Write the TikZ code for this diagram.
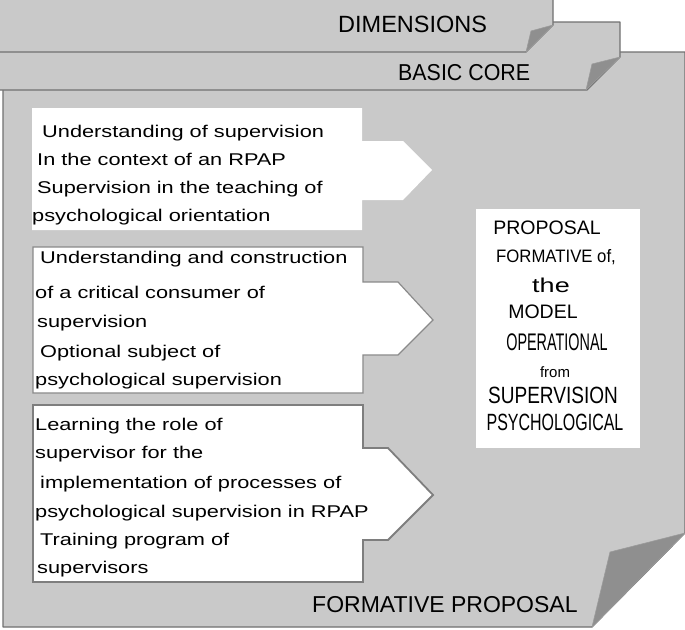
\documentclass[tikz,border=0pt]{standalone}
\usepackage{fontspec}
\setmainfont{Liberation Sans}
\newfontfamily\widefont[FakeStretch=1.28]{Liberation Sans}
\newfontfamily\tabfont[FakeStretch=0.93]{Liberation Sans}
\newfontfamily\widerfont[FakeStretch=1.35]{Liberation Sans}
\newfontfamily\narrowfont[FakeStretch=0.6]{Liberation Sans}
\newfontfamily\condfont[FakeStretch=0.81]{Liberation Sans}
\newfontfamily\tightfont[FakeStretch=0.68]{Liberation Sans}
\definecolor{panelgray}{RGB}{201, 201, 201}
\definecolor{flapgray}{RGB}{143, 143, 143}
\definecolor{edgegray}{RGB}{112, 112, 112}
\definecolor{boxgray}{RGB}{138, 138, 138}

\begin{document}
\begin{tikzpicture}[
    x=1pt, y=-1pt,
    panel/.style={fill=panelgray, draw=edgegray, line width=1.2pt, line join=round},
    flap/.style={fill=flapgray, draw=edgegray!70, line width=0.6pt, line join=round},
    arrowbox/.style={fill=white, line join=miter},
    tablabel/.style={anchor=base west, inner sep=0pt, font=\fontsize{23.5}{26}\selectfont},
    boxline/.style={anchor=base west, inner sep=0pt, font=\widefont\fontsize{17}{20}\selectfont},
    modelline/.style={anchor=base, inner sep=0pt}
]
\useasboundingbox (0,0) rectangle (685,629);

% Hoja principal (al fondo)
\draw[panel] (3,52) -- (685,52) -- (685,533) -- (592,627) -- (3,627) -- cycle;
\draw[flap] (685,533) -- (610,552) -- (592,627) -- cycle;

% Pestaña BASIC CORE
\draw[panel] (-2,22) -- (620,22) -- (620,57) -- (587,90) -- (-2,90) -- cycle;
\draw[flap] (620,57) -- (592,64) -- (586,90) -- cycle;

% Pestaña DIMENSIONS
\draw[panel] (-2,-2) -- (553,-2) -- (553,25) -- (526,52) -- (-2,52) -- cycle;
\draw[flap] (553,25) -- (531,31) -- (526,52) -- cycle;

% Etiquetas de las pestañas
\node[tablabel] (dim) at (338,32) {DIMENSIONS};
\node[tablabel, font=\tabfont\fontsize{23}{26}\selectfont] (core) at (398,80) {BASIC CORE};
\node[tablabel, font=\fontsize{23}{26}\selectfont] (formprop) at (312,612) {FORMATIVE PROPOSAL};

% Cajas con flecha
\path[arrowbox] (32,108) -- (362,108) -- (362,141) -- (403,141) -- (432,170)
    -- (403,200) -- (362,200) -- (362,230) -- (32,230) -- cycle;
\draw[arrowbox, draw=boxgray, line width=1.2pt] (33,247) -- (363,247) -- (363,282) -- (398,282)
    -- (433,320) -- (398,355) -- (363,355) -- (363,393) -- (33,393) -- cycle;
\draw[arrowbox, draw=edgegray!90, line width=1.8pt] (33,405) -- (363,405) -- (363,448) -- (388,448)
    -- (433,495) -- (388,540) -- (363,540) -- (363,582) -- (33,582) -- cycle;

% Textos de las cajas
\foreach \txt/\xx/\yy [count=\i] in {
    Understanding of supervision/42/137,
    In the context of an RPAP/37/165,
    Supervision in the teaching of/37/193,
    psychological orientation/32/221} {
    \node[boxline] (one-\i) at (\xx,\yy) {\txt};
}
\foreach \txt/\xx/\yy [count=\i] in {
    Understanding and construction/40/263,
    of a critical consumer of/35/298,
    supervision/37/327,
    Optional subject of/40/357,
    psychological supervision/35/385} {
    \node[boxline] (two-\i) at (\xx,\yy) {\txt};
}
\foreach \txt/\xx/\yy [count=\i] in {
    Learning the role of/35/430,
    supervisor for the/35/458,
    implementation of processes of/40/488,
    psychological supervision in RPAP/35/517,
    Training program of/40/545,
    supervisors/37/573} {
    \node[boxline] (three-\i) at (\xx,\yy) {\txt};
}

% Caja del modelo
\fill[white] (476,209) rectangle (640,448);
\node[modelline, font=\fontsize{19.5}{22}\selectfont] (m1) at (547,234) {PROPOSAL};
\node[modelline, font=\tabfont\fontsize{18}{20}\selectfont] (m2) at (556,262) {FORMATIVE of,};
\node[modelline, font=\widerfont\fontsize{20}{22}\selectfont] (m3) at (551,292) {the};
\node[modelline, font=\fontsize{19.5}{22}\selectfont] (m4) at (543,318) {MODEL};
\node[modelline, font=\narrowfont\fontsize{24}{26}\selectfont] (m5) at (557,350) {OPERATIONAL};
\node[modelline, font=\fontsize{15}{17}\selectfont] (m6) at (555,377) {from};
\node[modelline, font=\condfont\fontsize{23.5}{26}\selectfont] (m7) at (553,403) {SUPERVISION};
\node[modelline, font=\tightfont\fontsize{23.5}{26}\selectfont] (m8) at (555,430) {PSYCHOLOGICAL};

\end{tikzpicture}
\end{document}
